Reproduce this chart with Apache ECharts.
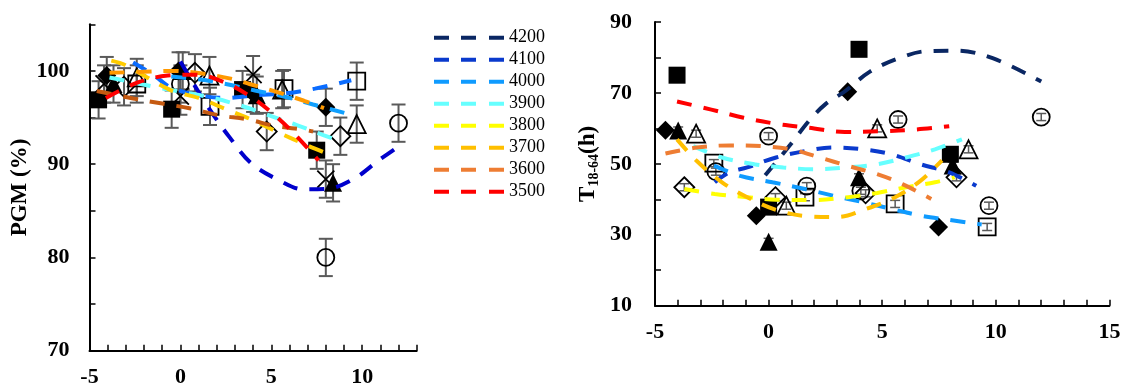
<!DOCTYPE html>
<html>
<head>
<meta charset="utf-8">
<script src="https://cdn.jsdelivr.net/npm/echarts@6/dist/echarts.min.js"></script>
<style>html,body{margin:0;padding:0;background:#fff}#c{width:1125px;height:390px}</style>
</head>
<body>
<div id="c"></div>
<script>
// ---------- tick labels ----------
const leftXTickLabels = [-5, 0, 5, 10];
const leftYTickLabels = [70, 80, 90, 100];
const rightXTickLabels = [-5, 0, 5, 10, 15];
const rightYTickLabels = [10, 30, 50, 70, 90];
const legendNames = ['4200', '4100', '4000', '3900', '3800', '3700', '3600', '3500'];

// ---------- LEFT panel: PGM (%) markers [x, y, err] ----------
const leftSquareFilled   = [[-4.5,96.9,2],[-0.48,95.9,2],[3.42,98.0,2],[7.5,91.5,2]];
const leftDiamondFilled  = [[-4.05,99.5,2],[-0.1,100.0,2],[4.0,97.6,2],[8.0,96.1,2]];
const leftTriangleFilled = [[-3.68,98.6,2],[0.13,100.0,2],[4.2,97.4,2],[8.4,88.0,2]];
const leftCross          = [[-4.2,98.6,2],[0.0,97.3,2],[4.0,99.6,2],[8.0,88.4,2]];
const leftCircleOpen     = [[0.0,98.6,2],[8.0,80.0,2],[12.0,94.4,2]];
const leftSquareOpen     = [[-2.4,98.6,2],[1.63,96.2,2],[5.7,98.1,2],[9.7,98.9,2]];
const leftTriangleOpen   = [[-2.4,99.3,2],[1.6,99.5,2],[5.6,98.0,2],[9.7,94.3,2]];
const leftDiamondOpen    = [[-3.1,98.3,2],[0.8,99.8,2],[4.75,93.5,2],[8.8,93.0,2]];

// ---------- LEFT panel: fitted curves [x, y] ----------
const leftCurveDarkBlue  = [[0,101],[0.7,98.7],[1.6,95.9],[2.7,92.9],[3.9,90.1],[5.4,88.3],[6.8,87.3],[8.2,87.4],[9.6,88.5],[10.9,90.4],[12,91.9]];
const leftCurveBlue      = [[-2.6,100.9],[-1.5,99.6],[-0.5,98.2],[1,97.4],[2.5,97.1],[4.1,97.4],[5.8,97.6],[7.4,98.1],[9.4,99.0]];
const leftCurveLightBlue = [[-0.5,99.4],[1,99.1],[2.5,98.6],[4.1,97.9],[5.8,97.2],[7.3,96.4],[9.2,95.4]];
const leftCurveCyan      = [[-3.9,99.3],[-2.9,98.9],[-1.2,98.2],[0.5,97.6],[1.8,97.1],[3.3,96.3],[4.5,95.5],[5.5,94.8],[6.4,94.2],[7.9,93.1],[8.6,92.6]];
const leftCurveGold      = [[-3.8,101.1],[-3.0,100.6],[-0.6,98.0],[1.0,97.1],[2.5,95.9],[4.0,94.7],[5.4,93.4],[7.0,92.0],[8.4,90.9]];
const leftCurveOrange    = [[-3.9,99.8],[-2.1,99.9],[-0.45,100],[1.1,99.75],[2.7,99.2],[3.8,98.6],[5.2,97.8],[6.8,96.8],[7.9,96.0]];
const leftCurveBrown     = [[-4.6,97.85],[-2.6,97.05],[-1.0,96.5],[0.5,96.0],[2.1,95.25],[3.7,94.8],[5.2,94.1],[6.8,93.7],[7.3,93.5]];
const leftCurveRed       = [[-4.1,97.1],[-2.3,98.8],[-0.7,99.5],[0.8,99.6],[2.4,98.8],[3.9,97.2],[5.1,95.4],[6.3,93.2],[7.6,90.4]];

// ---------- RIGHT panel: T18-64(h) markers [x, y, err] ----------
const rightSquareFilled   = [[-4.03,75.0,1],[-0.0,37.8,1],[3.98,82.3,1],[8.0,52.7,1]];
const rightDiamondFilled  = [[-4.54,59.5,1],[-0.54,35.4,1],[3.48,70.3,1],[7.48,32.2,1]];
const rightTriangleFilled = [[-3.98,59.4,1],[0.0,28.0,1],[3.98,46.2,1],[8.1,49.5,1]];
const rightDiamondOpen    = [[-3.71,43.4,1],[0.3,40.6,1],[4.27,41.7,1],[8.27,46.2,1]];
const rightCircleOpen     = [[-2.32,47.8,1],[0.0,57.8,1],[1.68,43.7,1],[4.06,42.4,1],[5.7,62.5,1],[9.7,38.2,1],[12.0,63.2,1]];
const rightSquareOpen     = [[-2.41,50.2,1],[1.6,40.6,1],[5.57,38.7,1],[9.62,32.2,1]];
const rightTriangleOpen   = [[-3.19,58.5,1],[0.78,38.2,1],[4.78,60.0,1],[8.8,54.1,1]];

// ---------- RIGHT panel: fitted curves [x, y] ----------
const rightCurve4200 = [[-0.15,46.8],[0.97,55.5],[1.76,62],[2.48,66.7],[3.35,70.4],[4.46,76],[5.73,79.8],[7.0,81.8],[8.27,81.9],[9.86,79.8],[12,73.2]];
const rightCurve4100 = [[-2.37,44.8],[-1.73,47.6],[-0.94,49.0],[0.33,51.8],[1.6,53.6],[2.87,54.6],[4.14,54.1],[5.41,52.7],[6.68,49.9],[7.95,47.6],[9.14,43.8]];
const rightCurve4000 = [[-2.4,49.5],[-1.25,46.6],[0.17,44.8],[1.6,42.9],[2.87,41.0],[4.14,39.2],[5.41,37.3],[6.68,35.4],[7.95,34.2],[9.38,32.9]];
const rightCurve3900 = [[-3.32,55.0],[-2.05,51.8],[-0.62,49.9],[0.65,49.0],[1.92,48.5],[3.51,49.0],[4.78,49.9],[6.05,51.8],[7.32,54.1],[8.51,56.9]];
const rightCurve3800 = [[-3.71,42.9],[-2.37,41.5],[-0.94,40.6],[0.33,39.9],[1.92,39.8],[3.51,40.6],[4.78,41.8],[6.05,43.4],[7.32,44.8],[8.19,46.2]];
const rightCurve3700 = [[-4.03,56.9],[-3.16,50.8],[-2.05,44.8],[-0.94,40.6],[0.33,37.0],[1.76,35.2],[3.03,35.0],[4.3,37.3],[5.57,40.6],[6.68,45.2],[7.63,51.0]];
const rightCurve3600 = [[-4.54,52.9],[-3.16,54.6],[-1.73,55.2],[-0.3,55.0],[0.97,54.1],[2.24,51.8],[3.51,49.4],[4.78,47.1],[5.89,44.3],[7.16,40.1]];
const rightCurve3500 = [[-4.03,67.6],[-2.52,65.3],[-1.1,63.0],[0.33,61.3],[1.76,60.2],[3.35,59.0],[4.94,59.2],[6.52,59.7],[7.95,60.6]];

// ---------- styling ----------
const FONT = 'Liberation Serif, Times New Roman, serif';
const rightColors = {'4200':'#0a2763','4100':'#0a3acd','4000':'#0f9bff','3900':'#66ffff','3800':'#ffff00','3700':'#ffbf00','3600':'#ee7d33','3500':'#ff0000'};
const rightCurves = {'4200':rightCurve4200,'4100':rightCurve4100,'4000':rightCurve4000,'3900':rightCurve3900,'3800':rightCurve3800,'3700':rightCurve3700,'3600':rightCurve3600,'3500':rightCurve3500};
const leftCurves = [
  ['L-darkblue', leftCurveDarkBlue, '#0000cc'],
  ['L-blue', leftCurveBlue, '#0a6cff'],
  ['L-lightblue', leftCurveLightBlue, '#10a0ff'],
  ['L-cyan', leftCurveCyan, '#66ffff'],
  ['L-gold', leftCurveGold, '#ffcc00'],
  ['L-orange', leftCurveOrange, '#ff9900'],
  ['L-brown', leftCurveBrown, '#c55a11'],
  ['L-red', leftCurveRed, '#ff0000']
];

const CROSS = 'path://M0,0L10,10M10,0L0,10';
const DASH_ICON = 'path://M0,0h15v4h-15zM27,0h15v4h-15zM55,0h15v4h-15z';
const markerDefs = {
  squareFilled:   {symbol:'rect', fill:'#000', size:17},
  diamondFilled:  {symbol:'diamond', fill:'#000', size:19},
  triangleFilled: {symbol:'triangle', fill:'#000', size:18},
  cross:          {symbol:CROSS, fill:'none', size:17},
  circleOpen:     {symbol:'circle', fill:'transparent', size:17},
  squareOpen:     {symbol:'rect', fill:'transparent', size:17},
  triangleOpen:   {symbol:'triangle', fill:'transparent', size:18},
  diamondOpen:    {symbol:'diamond', fill:'transparent', size:20}
};

function axisCommon(min, max, interval, labelFn, margin) {
  return {
    type:'value', min, max, interval,
    axisLine:{show:true, onZero:false, lineStyle:{color:'#000', width:2}},
    axisTick:{show:true, inside:true, length:6, lineStyle:{color:'#000', width:1.5}},
    splitLine:{show:false},
    axisLabel:{fontFamily:FONT, fontWeight:'bold', fontSize:22, color:'#000', formatter:labelFn, margin:margin}
  };
}

function errRender(cap, lw) {
  return function(params, api) {
    const x = api.value(0), y = api.value(1), e = api.value(2);
    const t = api.coord([x, y + e]), b = api.coord([x, y - e]);
    const st = {stroke:'#5a5a5a', lineWidth:lw};
    return {type:'group', children:[
      {type:'line', shape:{x1:t[0], y1:t[1], x2:b[0], y2:b[1]}, style:st},
      {type:'line', shape:{x1:t[0]-cap, y1:t[1], x2:t[0]+cap, y2:t[1]}, style:st},
      {type:'line', shape:{x1:b[0]-cap, y1:b[1], x2:b[0]+cap, y2:b[1]}, style:st}
    ]};
  };
}

const series = [];
function addMarkers(prefix, data, key, axisIdx, cap, lw) {
  const d = markerDefs[key];
  series.push({
    name: prefix + '-err-' + key, type:'custom', xAxisIndex:axisIdx, yAxisIndex:axisIdx,
    renderItem: errRender(cap, lw), data: data, encode:{x:0, y:1}, z:2, silent:true
  });
  series.push({
    name: prefix + '-' + key, type:'scatter', xAxisIndex:axisIdx, yAxisIndex:axisIdx,
    data: data.map(p => [p[0], p[1]]), symbol:d.symbol, symbolSize:d.size, z:3, silent:true,
    itemStyle:{color:d.fill, borderColor:'#000', borderWidth: d.fill === '#000' ? 0 : 1.8, opacity:1}
  });
}

addMarkers('L', leftSquareFilled, 'squareFilled', 0, 7, 2);
addMarkers('L', leftDiamondFilled, 'diamondFilled', 0, 7, 2);
addMarkers('L', leftTriangleFilled, 'triangleFilled', 0, 7, 2);
addMarkers('L', leftCross, 'cross', 0, 7, 2);
addMarkers('L', leftCircleOpen, 'circleOpen', 0, 7, 2);
addMarkers('L', leftSquareOpen, 'squareOpen', 0, 7, 2);
addMarkers('L', leftTriangleOpen, 'triangleOpen', 0, 7, 2);
addMarkers('L', leftDiamondOpen, 'diamondOpen', 0, 7, 2);

addMarkers('R', rightSquareFilled, 'squareFilled', 1, 5, 1.5);
addMarkers('R', rightDiamondFilled, 'diamondFilled', 1, 5, 1.5);
addMarkers('R', rightTriangleFilled, 'triangleFilled', 1, 5, 1.5);
addMarkers('R', rightDiamondOpen, 'diamondOpen', 1, 5, 1.5);
addMarkers('R', rightCircleOpen, 'circleOpen', 1, 5, 1.5);
addMarkers('R', rightSquareOpen, 'squareOpen', 1, 5, 1.5);
addMarkers('R', rightTriangleOpen, 'triangleOpen', 1, 5, 1.5);

leftCurves.forEach(([name, data, color]) => {
  series.push({name, type:'line', xAxisIndex:0, yAxisIndex:0, data, smooth:0.35, symbol:'none', z:4, silent:true,
    lineStyle:{color, width:4, type:[15,12]}});
});
legendNames.forEach(n => {
  series.push({name:n, type:'line', xAxisIndex:1, yAxisIndex:1, data:rightCurves[n], smooth:0.35, symbol:'none', z:4, silent:true,
    itemStyle:{color:rightColors[n]},
    lineStyle:{color:rightColors[n], width:4, type:[15,12]}});
});

const chart = echarts.init(document.getElementById('c'), null, {renderer:'canvas'});
chart.setOption({
  animation:false,
  backgroundColor:'#fff',
  grid:[
    {left:89.5, top:24.3, width:327.2, height:326.4, containLabel:false},
    {left:655, top:22, width:454.4, height:283.7, containLabel:false}
  ],
  xAxis:[
    Object.assign(axisCommon(-5, 13, 1, v => leftXTickLabels.includes(v) ? String(v) : '', 16), {gridIndex:0}),
    Object.assign(axisCommon(-5, 15, 1, v => rightXTickLabels.includes(v) ? String(v) : '', 16), {gridIndex:1})
  ],
  yAxis:[
    Object.assign(axisCommon(70, 105, 5, v => leftYTickLabels.includes(v) ? String(v) : '', 20), {
      gridIndex:0, name:'PGM (%)', nameLocation:'middle', nameGap:58,
      nameTextStyle:{fontFamily:FONT, fontWeight:'bold', fontSize:23, color:'#000'}
    }),
    Object.assign(axisCommon(10, 90, 10, v => rightYTickLabels.includes(v) ? String(v) : '', 23), {
      gridIndex:1, name:'{t|T}{s|18-64}{t|(h)}', nameLocation:'middle', nameGap:54,
      nameTextStyle:{color:'#000', rich:{
        t:{fontFamily:FONT, fontWeight:'bold', fontSize:23, color:'#000', lineHeight:26},
        s:{fontFamily:FONT, fontWeight:'bold', fontSize:14, color:'#000', lineHeight:14, verticalAlign:'bottom'}
      }}
    })
  ],
  legend:{
    show:true, orient:'vertical', left:429, top:23.7, itemWidth:70, itemHeight:4, itemGap:4,
    selectedMode:false, icon:DASH_ICON,
    data:legendNames,
    textStyle:{fontFamily:FONT, fontSize:18, color:'#000', lineHeight:18}
  },
  series
});
</script>
</body>
</html>
